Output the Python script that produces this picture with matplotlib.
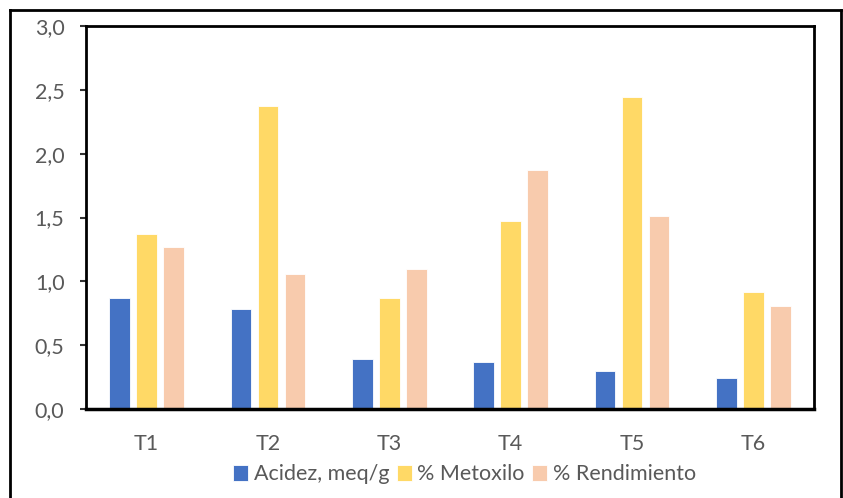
import matplotlib
matplotlib.use("Agg")
import matplotlib.pyplot as plt
from matplotlib.lines import Line2D
import numpy as np

plt.rcParams['font.family'] = ['Lato', 'DejaVu Sans']

tratamientos = ['T1', 'T2', 'T3', 'T4', 'T5', 'T6']
acidez = [0.87, 0.78, 0.39, 0.37, 0.30, 0.24]
metoxilo = [1.37, 2.37, 0.87, 1.47, 2.44, 0.92]
rendimiento = [1.27, 1.06, 1.10, 1.87, 1.51, 0.81]
series = ['Acidez, meq/g', '% Metoxilo', '% Rendimiento']
colores = ['#4472C4', '#FFD966', '#F8CBAD']

gris = '#595959'
fuente = 15.5

fig = plt.figure(figsize=(8.43, 4.98), dpi=100)
ax = fig.add_axes([0.102, 0.1787, 0.8636, 0.7691])

x = np.arange(len(tratamientos))
ancho = 0.169
paso = 0.222
for i, (valores, nombre, color) in enumerate(zip([acidez, metoxilo, rendimiento], series, colores)):
    ax.bar(x + (i - 1) * paso, valores, ancho, color=color, label=nombre,
           edgecolor='white', linewidth=0.6, zorder=2)

ax.set_xlim(-0.5, len(tratamientos) - 0.5)
ax.set_ylim(0, 3.0)
ax.set_yticks(np.arange(0, 3.01, 0.5))
ax.set_yticklabels([f'{v:.1f}'.replace('.', ',') for v in np.arange(0, 3.01, 0.5)])
ax.set_xticks(x)
ax.set_xticklabels(tratamientos)

for lado in ['left', 'right', 'top', 'bottom']:
    ax.spines[lado].set_color('black')
    ax.spines[lado].set_linewidth(2)
ax.spines['bottom'].set_linewidth(2.5)

ax.tick_params(axis='y', direction='out', length=4.5, width=1.5, color='#333333',
               labelsize=fuente, labelcolor=gris, pad=11)
ax.tick_params(axis='x', length=0, labelsize=fuente, labelcolor=gris, pad=18)

ax.legend(loc='upper center', bbox_to_anchor=(0.52, -0.122), ncol=3, frameon=False,
          fontsize=fuente, labelcolor=gris, handlelength=0.7, handleheight=0.8,
          handletextpad=0.25, columnspacing=0.35, borderaxespad=0)

# marco exterior del gráfico
marco = dict(color='black', linewidth=2, transform=fig.transFigure)
fig.add_artist(Line2D([0.0119, 0.0119], [0.98, 0.0], **marco))
fig.add_artist(Line2D([0.0119, 0.9976], [0.98, 0.98], **marco))
fig.add_artist(Line2D([0.9976, 0.9976], [0.98, 0.0], **marco))

fig.savefig('out.png', dpi=100)
